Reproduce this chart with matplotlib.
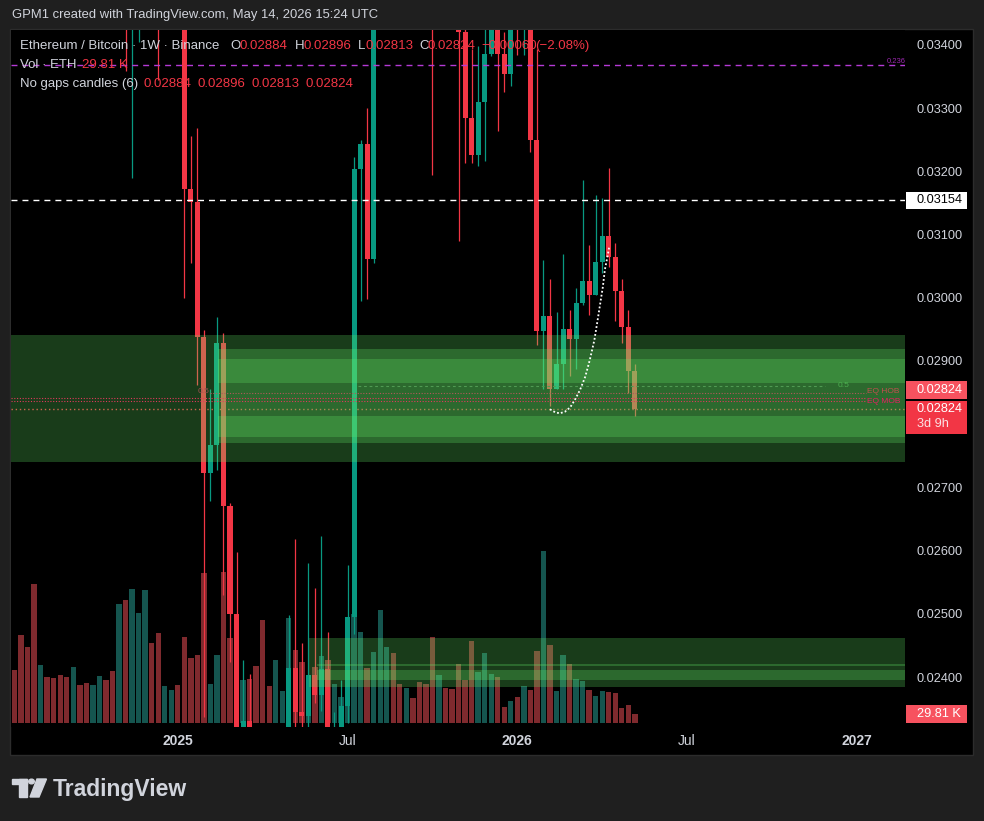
import numpy as np
import matplotlib.pyplot as plt
from matplotlib.patches import Rectangle, Polygon, Circle
from matplotlib.transforms import blended_transform_factory

plt.rcParams['font.family'] = ['Liberation Sans', 'DejaVu Sans']

W, H = 984, 821
BG = '#1f1f1f'
TXT = '#d1d4dc'
UP, DOWN = '#089981', '#f23645'
UP_VOL, DOWN_VOL = '#15554f', '#7f2a2e'
ZONE = '#64eb68'

# ETH/BTC weekly, "no gaps" candles: each open is the previous close
first_week = np.datetime64('2024-07-15')
first_open = 0.0560
close = np.array([
    0.0535, 0.0520, 0.0470, 0.0435, 0.0445, 0.0432, 0.0425, 0.0410, 0.0395, 0.0400,
    0.0388, 0.0382, 0.0387, 0.0392, 0.0375, 0.0362, 0.0370, 0.0352, 0.0360, 0.0385,
    0.0398, 0.0388, 0.0368, 0.0372, 0.0376, 0.0362, 0.03172, 0.03152, 0.02938, 0.02723,
    0.02767, 0.02929, 0.02671, 0.02500, 0.02290, 0.02331, 0.02220, 0.02100, 0.01950, 0.01890,
    0.01920, 0.01940, 0.02414, 0.02345, 0.02339, 0.02403, 0.02372, 0.02413, 0.02290, 0.02310,
    0.02354, 0.02495, 0.03204, 0.03243, 0.03061, 0.03600, 0.03950, 0.04150, 0.04000, 0.03920,
    0.04050, 0.03880, 0.03720, 0.03650, 0.03580, 0.03680, 0.03620, 0.03550, 0.03421, 0.03285,
    0.03226, 0.03310, 0.03386, 0.03520, 0.03386, 0.03354, 0.03490, 0.03460, 0.03520, 0.03250,
    0.02948, 0.02971, 0.02856, 0.02895, 0.02951, 0.02935, 0.02992, 0.03027, 0.03004, 0.03057,
    0.03098, 0.03065, 0.03011, 0.02954, 0.02884, 0.02824])
high = np.array([
    0.0568, 0.0545, 0.0528, 0.0478, 0.0452, 0.0450, 0.0440, 0.0430, 0.0414, 0.0408,
    0.0405, 0.0392, 0.0395, 0.0398, 0.0396, 0.0380, 0.0378, 0.0375, 0.0368, 0.0392,
    0.0410, 0.0402, 0.0392, 0.0380, 0.0385, 0.0378, 0.0366, 0.03256, 0.03268, 0.02949,
    0.02855, 0.02969, 0.02945, 0.02675, 0.02597, 0.02427, 0.02405, 0.02260, 0.02150, 0.01990,
    0.01980, 0.01990, 0.02498, 0.02618, 0.02454, 0.02580, 0.02541, 0.02623, 0.02472, 0.02344,
    0.02395, 0.02577, 0.03222, 0.03250, 0.03301, 0.03700, 0.04020, 0.04250, 0.04180, 0.04050,
    0.04120, 0.04080, 0.03920, 0.03760, 0.03700, 0.03740, 0.03720, 0.03660, 0.03600, 0.03460,
    0.03393, 0.03398, 0.03460, 0.03580, 0.03560, 0.03421, 0.03530, 0.03550, 0.03560, 0.03560,
    0.03394, 0.03060, 0.03030, 0.02977, 0.03069, 0.02981, 0.03016, 0.03186, 0.03084, 0.03163,
    0.03158, 0.03206, 0.03087, 0.03030, 0.02981, 0.02896])
low = np.array([
    0.0528, 0.0505, 0.0440, 0.0420, 0.0428, 0.0425, 0.0418, 0.0402, 0.0385, 0.0388,
    0.0380, 0.0372, 0.0376, 0.0380, 0.0366, 0.0352, 0.0350, 0.03359, 0.03190, 0.03405,
    0.0376, 0.0378, 0.03344, 0.0356, 0.0362, 0.0352, 0.02999, 0.03055, 0.02862, 0.02337,
    0.02679, 0.02728, 0.02529, 0.02424, 0.02220, 0.02260, 0.02190, 0.02050, 0.01920, 0.01840,
    0.01860, 0.01880, 0.01890, 0.02300, 0.02290, 0.02300, 0.02359, 0.02347, 0.02250, 0.02240,
    0.02270, 0.02328, 0.02468, 0.02995, 0.02998, 0.03055, 0.03580, 0.03900, 0.03920, 0.03850,
    0.03880, 0.03800, 0.03650, 0.03560, 0.03194, 0.03540, 0.03560, 0.03480, 0.03090, 0.03213,
    0.03214, 0.03209, 0.03217, 0.03383, 0.03264, 0.03325, 0.03335, 0.03384, 0.03384, 0.03231,
    0.02925, 0.02856, 0.02828, 0.02856, 0.02856, 0.02877, 0.02887, 0.02989, 0.02973, 0.03004,
    0.03039, 0.03048, 0.02963, 0.02929, 0.02849, 0.02813])
volume_k = np.array([
    182, 302, 260, 476, 199, 158, 154, 165, 158, 192,
    130, 137, 130, 161, 147, 178, 408, 421, 459, 377,
    456, 274, 308, 127, 113, 130, 295, 223, 233, 514,
    134, 233, 517, 291, 281, 147, 151, 195, 353, 127,
    216, 110, 360, 250, 209, 165, 192, 230, 216, 134,
    89, 363, 374, 312, 189, 243, 387, 260, 240, 134,
    120, 86, 141, 134, 295, 165, 120, 117, 202, 147,
    281, 175, 240, 168, 158, 55, 75, 89, 127, 113,
    247, 589, 267, 110, 233, 202, 151, 144, 113, 93,
    110, 106, 103, 51, 62, 29.81])

tick_dates = np.array(['2025-01-06', '2025-07-07', '2026-01-05', '2026-07-06', '2027-01-04'],
                      dtype='datetime64[D]')
tick_labels = ['2025', 'Jul', '2026', 'Jul', '2027']
price_ticks = [0.024, 0.025, 0.026, 0.027, 0.029, 0.030, 0.031, 0.032, 0.033, 0.034]

fib_236 = 0.033684
hline_level = 0.03154
mid_05 = 0.028609
eq_hob = 0.028489
eq_mob = [0.028410, 0.028367]
countdown = '3d 9h'

# order block zones: (start bar, bottom, top)
ob_outer = [(-1.0, 0.027402, 0.029411)]
ob_mid = [(31.2, 0.027703, 0.029190)]
ob_inner = [(31.2, 0.028652, 0.029032), (31.2, 0.027797, 0.028130)]
ob2_outer = [(45.1, 0.023842, 0.024620)]
ob2_inner = [(46.3, 0.024177, 0.024209), (46.3, 0.023956, 0.024114)]

# dotted rounding curve
curve_bar = [82.0, 82.8, 83.5, 84.3, 85.1, 85.8, 86.6, 87.4, 88.1, 88.8, 89.3, 89.7, 90.1, 90.4, 90.8, 91.1]
curve_price = [0.028236, 0.028188, 0.028172, 0.028198, 0.028267, 0.028383, 0.028541, 0.028751,
               0.029016, 0.029332, 0.029649, 0.029912, 0.030175, 0.030440, 0.030650, 0.030820]

n = len(close)
x = np.arange(n)
opens = np.concatenate([[first_open], close[:-1]])
up = close >= opens
week_day = np.timedelta64(7, 'D')
tick_pos = (tick_dates - first_week) / week_day


def fx(px):
    return px / W


def fy(py):
    return 1 - py / H


fig = plt.figure(figsize=(W / 100, H / 100), dpi=100, facecolor=BG)
fig.add_artist(Rectangle((fx(10), fy(755)), 963 / W, 726 / H, transform=fig.transFigure,
                         facecolor='black', edgecolor='#2c2c2c', lw=1, zorder=-1))

rect = [fx(11), fy(727), 894 / W, 697 / H]
axv = fig.add_axes(rect)
ax = fig.add_axes(rect)
xmin, xmax = -0.54, 136.37
ymin, ymax = 0.023209, 0.034237
ppx = (ymax - ymin) / 697

# volume overlay
axv.bar(x, volume_k, width=0.82, color=np.where(up, UP_VOL, DOWN_VOL), lw=0)
axv.set_xlim(xmin, xmax)
axv.set_ylim(-13.7, 2375)
vpx = (2375 + 13.7) / 697
axv.set_facecolor('black')
axv.set_xticks([])
axv.set_yticks([])
for s in axv.spines.values():
    s.set_visible(False)

# candles
ax.set_facecolor('none')
colors = np.where(up, UP, DOWN)
ax.axhline(close[-1], color=DOWN, ls=(0, (1, 2)), lw=1, zorder=1)
ax.vlines(x, low, high, colors=colors, lw=0.9, zorder=2)
body = np.maximum(np.abs(close - opens), ppx)
ax.bar(x, body, bottom=np.minimum(opens, close), width=0.77, color=colors, lw=0, zorder=3)

for s, b, t in ob_outer + ob_mid + ob_inner + ob2_outer + ob2_inner:
    s = max(s, xmin)
    ax.add_patch(Rectangle((s, b), xmax - s, t - b, facecolor=ZONE, alpha=0.26, lw=0, zorder=5))

ax.axhline(fib_236, color='#b53ad6', ls=(0, (4.3, 3.6)), lw=1, zorder=6)
ax.axhline(hline_level, color='white', ls=(0, (4.3, 3.6)), lw=1, zorder=6)
ax.hlines(mid_05, 52.6, 124.1, color='#4f9a52', ls=(0, (2.5, 2.5)), lw=0.8, zorder=6)
ax.text(126.0, mid_05, '0.5', color='#4caf50', fontsize=6, va='center', zorder=6)
ax.hlines(eq_hob, 29.9, 130.4, color='#b05a5a', ls=(0, (1, 1.5)), lw=0.8, zorder=6)
ax.text(29.8, eq_hob + 1.5 * ppx, '0.5', color='#a05050', fontsize=6, va='center', ha='right', zorder=6)
ax.text(130.5, eq_hob + 1.5 * ppx, 'EQ HOB', color='#c0504f', fontsize=6, va='center', zorder=6)
for lvl in eq_mob:
    ax.hlines(lvl, xmin, 130.4, color='#e03a5c', ls=(0, (1, 1.5)), lw=0.8, zorder=6)
ax.text(130.5, eq_mob[1], 'EQ MOB', color='#e91e63', fontsize=6, va='center', zorder=6)
ax.text(133.6, fib_236 + 3 * ppx, '0.236', color='#9c27b0', fontsize=5.5, va='center', zorder=6)

ax.plot(curve_bar, curve_price, color='white', ls=(0, (1, 1.2)), lw=1.3, zorder=7)

ax.set_xlim(xmin, xmax)
ax.set_ylim(ymin, ymax)
ax.yaxis.tick_right()
ax.set_yticks(price_ticks)
ax.set_yticklabels([f'{p:.5f}' for p in price_ticks])
ax.set_xticks(tick_pos)
ax.set_xticklabels(tick_labels)
for lab in ax.get_xticklabels():
    if lab.get_text() != 'Jul':
        lab.set_fontweight('bold')
ax.tick_params(axis='y', length=0, pad=8.6, labelcolor=TXT, labelsize=9.2)
ax.tick_params(axis='x', length=0, pad=4.7, labelcolor=TXT, labelsize=10)
for s in ax.spines.values():
    s.set_visible(False)

# price scale labels
tr = blended_transform_factory(ax.transAxes, ax.transData)
bx0, bw, tx = 1.0011, 0.0683, 1.0134


def scale_box(y0, h, color):
    ax.add_patch(Rectangle((bx0, y0), bw, h, transform=tr, facecolor=color, lw=0,
                           clip_on=False, zorder=8))


scale_box(hline_level - 8.5 * ppx, 17 * ppx, 'white')
ax.text(tx, hline_level, f'{hline_level:.5f}', transform=tr, color='black', fontsize=9.2,
        va='center', clip_on=False, zorder=9)
last = close[-1]
scale_box(last + 10 * ppx, 18 * ppx, '#f7525f')
ax.text(tx, last + 19 * ppx, f'{last:.5f}', transform=tr, color='white', fontsize=9.2,
        va='center', clip_on=False, zorder=9)
scale_box(last - 25 * ppx, 33 * ppx, DOWN)
ax.text(tx, last, f'{last:.5f}', transform=tr, color='white', fontsize=9.2,
        va='center', clip_on=False, zorder=9)
ax.text(tx, last - 15 * ppx, countdown, transform=tr, color='#fbe3e5', fontsize=9.2,
        va='center', clip_on=False, zorder=9)

trv = blended_transform_factory(axv.transAxes, axv.transData)
vol_last = volume_k[-1]
axv.add_patch(Rectangle((bx0, vol_last - 9 * vpx), bw, 18 * vpx, transform=trv,
                        facecolor='#f7525f', lw=0, clip_on=False, zorder=8))
axv.text(tx, vol_last, f'{vol_last:.2f} K', transform=trv, color='white', fontsize=9.2,
         va='center', clip_on=False, zorder=9)

# header and legend
fig.text(fx(12), fy(15), 'GPM1 created with TradingView.com, May 14, 2026 15:24 UTC',
         color=TXT, fontsize=9.4, va='center')
fs = 9.5
fig.text(fx(20), fy(46), 'Ethereum / Bitcoin · 1W · Binance', color=TXT, fontsize=fs, va='center')
o, h, l, c = opens[-1], high[-1], low[-1], close[-1]
chg = c - close[-2]
pct = chg / close[-2] * 100
for lx, key, vx, val in [(230, 'O', 240, o), (295, 'H', 304, h), (358, 'L', 365, l), (419, 'C', 427, c)]:
    fig.text(fx(lx), fy(46), key, color=TXT, fontsize=fs, va='center')
    fig.text(fx(vx), fy(46), f'{val:.5f}', color=DOWN, fontsize=fs, va='center')
fig.text(fx(481), fy(46), f'{chg:+.5f}'.replace('-', '\u2212'), color=DOWN, fontsize=fs, va='center')
fig.text(fx(535), fy(46), f'({pct:+.2f}%)'.replace('-', '\u2212'), color=DOWN, fontsize=fs, va='center')

fig.text(fx(20), fy(65), 'Vol · ETH', color=TXT, fontsize=fs, va='center')
fig.text(fx(82), fy(65), f'{vol_last:.2f} K', color=DOWN, fontsize=fs, va='center')

fig.text(fx(20), fy(84), 'No gaps candles (6)', color=TXT, fontsize=fs, va='center')
for vx, val in zip([143, 197, 251, 306], [o, h, l, c]):
    fig.text(fx(vx), fy(84), f'{val:.5f}', color=DOWN, fontsize=fs, va='center')

# TradingView logo
logo = '#d1d4dc'
fig.add_artist(Rectangle((fx(12), fy(784)), 15 / W, 5 / H, transform=fig.transFigure, color=logo))
fig.add_artist(Rectangle((fx(19), fy(797)), 8 / W, 18 / H, transform=fig.transFigure, color=logo))
fig.add_artist(Circle((fx(31.5), fy(781.5)), 2.8 / W, transform=fig.transFigure, color=logo))
fig.add_artist(Polygon([(fx(37), fy(779)), (fx(46.5), fy(779)), (fx(39), fy(797)), (fx(30), fy(797))],
                       closed=True, transform=fig.transFigure, color=logo))
fig.text(fx(53), fy(789), 'TradingView', color=logo, fontsize=16.5, fontweight='bold', va='center')

fig.savefig('out.png', dpi=100, facecolor=BG)
